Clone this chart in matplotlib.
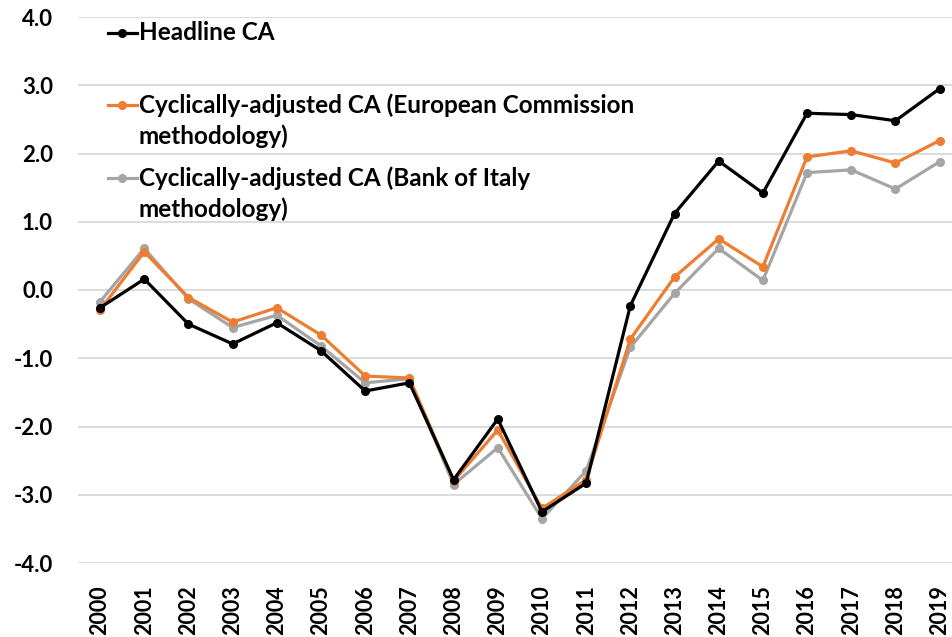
import matplotlib.pyplot as plt
from matplotlib.lines import Line2D

years = [str(y) for y in range(2000, 2020)]

headline = [-0.26, 0.16, -0.50, -0.79, -0.48, -0.89, -1.48, -1.36, -2.78, -1.89,
            -3.25, -2.83, -0.23, 1.12, 1.89, 1.42, 2.59, 2.57, 2.48, 2.95]
ca_ec = [-0.29, 0.56, -0.11, -0.47, -0.26, -0.66, -1.26, -1.29, -2.80, -2.05,
         -3.20, -2.78, -0.72, 0.19, 0.75, 0.34, 1.95, 2.04, 1.86, 2.19]
ca_boi = [-0.17, 0.61, -0.13, -0.55, -0.37, -0.82, -1.36, -1.30, -2.85, -2.31,
          -3.35, -2.65, -0.84, -0.05, 0.61, 0.14, 1.72, 1.76, 1.48, 1.88]

series = [
    (headline, '#000000', ['Headline CA']),
    (ca_ec, '#ED7D31', ['Cyclically-adjusted CA (European Commission', 'methodology)']),
    (ca_boi, '#A5A5A5', ['Cyclically-adjusted CA (Bank of Italy', 'methodology)']),
]

FONT = 'Lato'
W, H = 952, 637

fig = plt.figure(figsize=(W / 100, H / 100), dpi=100)
ax = fig.add_axes([78 / W, 1 - 563 / H, 1 - 78 / W, (563 - 17) / H])

x = list(range(len(years)))
for values, color, _ in series[::-1]:
    ax.plot(x, values, color=color, lw=2.3, marker='o', ms=5.5, zorder=3)

ax.set_xlim(-0.5, 19.28)
ax.set_ylim(-4, 4)
ax.set_yticks(range(-4, 5))
ax.set_yticklabels([f'{v:.1f}' for v in range(-4, 5)], fontfamily=FONT,
                   fontweight='bold', fontsize=16)
ax.set_xticks(x)
ax.set_xticklabels(years, rotation=90, fontfamily=FONT, fontweight='bold', fontsize=15.5)
ax.tick_params(axis='y', length=0, pad=18)
ax.tick_params(axis='x', length=0, pad=16)
ax.grid(axis='y', color='#D9D9D9', lw=1.3)
ax.set_axisbelow(True)
for s in ax.spines.values():
    s.set_visible(False)

# hand-made legend: marker line sits on the first text line
rows = [33, 105, 178]
for (values, color, lines), y0 in zip(series, rows):
    fy = 1 - y0 / H
    fig.add_artist(Line2D([108 / W, 137 / W], [fy, fy], color=color, lw=2.3,
                          transform=fig.transFigure))
    fig.add_artist(Line2D([122.5 / W], [fy], color=color, marker='o', ms=5.5,
                          transform=fig.transFigure))
    for i, line in enumerate(lines):
        fig.text(139 / W, 1 - (y0 + i * 31) / H, line, fontfamily=FONT,
                 fontweight='bold', fontsize=17.5, va='center', ha='left')

fig.savefig('out.png', dpi=100)
